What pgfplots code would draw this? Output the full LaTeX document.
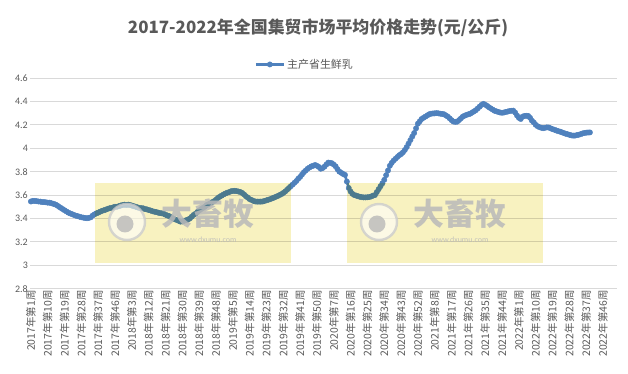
\documentclass[border=0pt]{standalone}
\usepackage{fontspec}
\setmainfont{Carlito}
\newfontfamily\cjk{Noto Sans CJK SC}
\usepackage{pgfplots}
\usepackage{pgfplotstable}
\pgfplotsset{compat=1.18}
\definecolor{lineblue}{RGB}{79,129,189}
\definecolor{txtgray}{RGB}{89,89,89}
\definecolor{gridgray}{RGB}{217,217,217}
\definecolor{wmyellow}{RGB}{248,242,192}
\definecolor{wmgray}{RGB}{185,185,185}

\pgfplotstableread[header=false,row sep=\\]{
3.545\\3.55\\3.55\\3.548\\3.545\\3.544\\3.54\\3.54\\3.538\\3.535\\
3.535\\3.53\\3.525\\3.52\\3.512\\3.50\\3.49\\3.48\\3.47\\3.46\\
3.45\\3.443\\3.437\\3.43\\3.424\\3.42\\3.415\\3.41\\3.407\\3.404\\
3.402\\3.405\\3.41\\3.425\\3.435\\3.444\\3.45\\3.458\\3.465\\3.47\\
3.475\\3.482\\3.487\\3.49\\3.495\\3.50\\3.50\\3.505\\3.51\\3.515\\
3.518\\3.515\\3.518\\3.515\\3.51\\3.505\\3.50\\3.495\\3.49\\3.488\\
3.487\\3.48\\3.478\\3.472\\3.468\\3.462\\3.458\\3.455\\3.45\\3.446\\
3.444\\3.44\\3.432\\3.425\\3.42\\3.41\\3.40\\3.393\\3.387\\3.38\\
3.373\\3.375\\3.38\\3.385\\3.39\\3.40\\3.415\\3.43\\3.44\\3.455\\
3.468\\3.48\\3.49\\3.50\\3.515\\3.522\\3.53\\3.54\\3.548\\3.56\\
3.575\\3.586\\3.595\\3.605\\3.613\\3.62\\3.625\\3.632\\3.635\\3.636\\
3.634\\3.63\\3.626\\3.618\\3.605\\3.59\\3.578\\3.565\\3.558\\3.55\\
3.545\\3.544\\3.544\\3.544\\3.545\\3.55\\3.555\\3.56\\3.565\\3.572\\
3.578\\3.585\\3.592\\3.60\\3.608\\3.618\\3.63\\3.645\\3.66\\3.675\\
3.69\\3.705\\3.72\\3.74\\3.755\\3.775\\3.795\\3.81\\3.825\\3.835\\
3.845\\3.85\\3.857\\3.85\\3.84\\3.825\\3.83\\3.842\\3.86\\3.877\\
3.875\\3.872\\3.86\\3.845\\3.82\\3.80\\3.79\\3.78\\3.772\\3.715\\
3.66\\3.63\\3.61\\3.60\\3.595\\3.59\\3.585\\3.582\\3.58\\3.58\\
3.581\\3.583\\3.588\\3.595\\3.60\\3.625\\3.65\\3.675\\3.70\\3.73\\
3.77\\3.81\\3.85\\3.875\\3.895\\3.91\\3.925\\3.94\\3.95\\3.965\\
3.985\\4.01\\4.04\\4.07\\4.10\\4.13\\4.17\\4.21\\4.23\\4.25\\
4.26\\4.27\\4.28\\4.29\\4.295\\4.297\\4.298\\4.30\\4.298\\4.295\\
4.293\\4.29\\4.28\\4.27\\4.255\\4.24\\4.228\\4.225\\4.227\\4.24\\
4.255\\4.27\\4.278\\4.285\\4.29\\4.295\\4.305\\4.315\\4.325\\4.34\\
4.355\\4.37\\4.379\\4.372\\4.362\\4.35\\4.34\\4.33\\4.32\\4.315\\
4.31\\4.305\\4.303\\4.305\\4.31\\4.313\\4.318\\4.32\\4.321\\4.305\\
4.28\\4.26\\4.25\\4.27\\4.276\\4.277\\4.276\\4.26\\4.235\\4.22\\
4.20\\4.188\\4.18\\4.175\\4.171\\4.175\\4.178\\4.177\\4.17\\4.163\\
4.158\\4.152\\4.146\\4.142\\4.136\\4.13\\4.124\\4.12\\4.115\\4.11\\
4.108\\4.108\\4.112\\4.115\\4.12\\4.126\\4.13\\4.133\\4.134\\4.135\\
}\milk

\begin{document}
\begin{tikzpicture}
\useasboundingbox (0bp,0bp) rectangle (628bp,374bp);
\begin{axis}[
  at={(30bp,85.3bp)}, anchor=south west,
  scale only axis, width=587bp, height=210.7bp,
  xmin=-0.5, xmax=313.5, ymin=2.8, ymax=4.6,
  ytick={2.8,3.0,3.2,3.4,3.6,3.8,4.0,4.2,4.4,4.6},
  yticklabels={2.8,3,3.2,3.4,3.6,3.8,4,4.2,4.4,4.6},
  xtick={0,9,...,306},
  xticklabels={2017年第1周,2017年第10周,2017年第19周,2017年第28周,2017年第37周,2017年第46周,
    2018年第3周,2018年第12周,2018年第21周,2018年第30周,2018年第39周,2018年第48周,
    2019年第5周,2019年第14周,2019年第23周,2019年第32周,2019年第41周,2019年第50周,
    2020年第7周,2020年第16周,2020年第25周,2020年第34周,2020年第43周,2020年第52周,
    2021年第8周,2021年第17周,2021年第26周,2021年第35周,2021年第44周,
    2022年第1周,2022年第10周,2022年第19周,2022年第28周,2022年第37周,2022年第46周},
  xticklabel style={font=\cjk\fontsize{10.5}{11}\selectfont, text=txtgray, rotate=90, anchor=east, inner sep=1.5bp},
  yticklabel style={font=\fontsize{10}{12}\selectfont, text=txtgray, inner sep=2bp},
  /pgf/number format/assume math mode=true,
  ymajorgrids, grid style={draw=gridgray, line width=0.8bp},
  axis line style={draw=none},
  major tick length=0pt,
  tick style={draw=none},
  clip=false,
  legend style={at={(0.468,1)}, anchor=south, yshift=5bp, draw=none, fill=none,
    font=\cjk\fontsize{11}{13}\selectfont, text=txtgray, inner sep=1bp},
  legend image code/.code={\draw[mark repeat=2,mark phase=2,#1] plot coordinates {(0bp,0bp) (14bp,0bp) (28bp,0bp)};},
]
\addplot[color=lineblue, line width=2.6bp, mark=*, mark size=2.7bp,
  mark options={fill=lineblue, draw=lineblue, line width=0.4bp}]
  table[x expr=\coordindex, y index=0] {\milk};
\addlegendentry{主产省生鲜乳}
\end{axis}

\node[font=\cjk\bfseries\fontsize{17}{20}\selectfont, text=txtgray] at (318bp,346bp) {2017-2022年全国集贸市场平均价格走势(元/公斤)};

% watermarks
\begin{scope}[blend mode=multiply]
\fill[wmyellow] (95bp,111bp) rectangle (291bp,191bp);
\fill[wmyellow] (347bp,111bp) rectangle (543bp,191bp);
\end{scope}
\foreach \cx in {127,379}{
  \fill[white, opacity=0.6] (\cx bp,152bp) circle (18bp);
  \draw[gray!40, line width=2.4bp, opacity=0.8] (\cx bp,152bp) circle (18bp);
  \fill[gray!55, opacity=0.8] ([xshift=-2bp]\cx bp,150bp) circle (8.5bp);
}
\node[font=\cjk\bfseries\fontsize{31}{32}\selectfont, text=wmgray, opacity=0.85] at (208bp,160bp) {大畜牧};
\node[font=\fontsize{8}{9}\selectfont, text=wmgray, opacity=0.85] at (208bp,134bp) {www.dxumu.com};
\node[font=\cjk\bfseries\fontsize{31}{32}\selectfont, text=wmgray, opacity=0.85] at (460bp,160bp) {大畜牧};
\node[font=\fontsize{8}{9}\selectfont, text=wmgray, opacity=0.85] at (460bp,134bp) {www.dxumu.com};
\end{tikzpicture}
\end{document}
